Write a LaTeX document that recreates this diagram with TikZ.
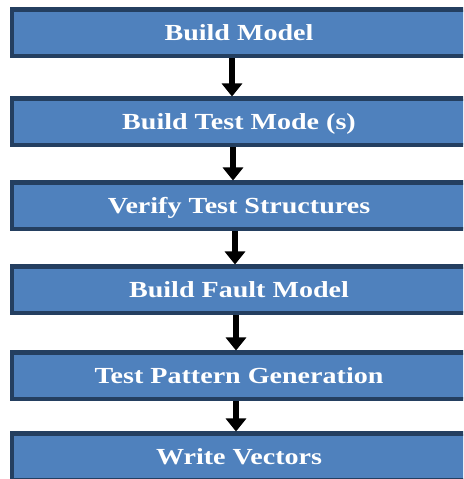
\documentclass[tikz,border=0pt]{standalone}
\usepackage{fontspec}
\setmainfont{Liberation Serif}
\newfontfamily\stagefont[FakeStretch=1.22]{Liberation Serif}
\usetikzlibrary{positioning,arrows.meta}
\definecolor{stageblue}{HTML}{4F81BD}
\definecolor{stageedge}{HTML}{243F60}

\begin{document}
\begin{tikzpicture}[x=1pt,y=1pt,>={Triangle[width=20pt,length=13pt]},
      stage/.style={rectangle,draw=stageedge,fill=stageblue,line width=4.5pt,
        minimum width=454pt,minimum height=46.5pt,inner sep=0pt,
        text=white,text height=20pt,text depth=5pt,
        font=\stagefont\bfseries\fontsize{23}{26}\selectfont}]
      \path[use as bounding box,clip] (0,0) rectangle (463,479);
      \node[stage] (model) at (239,446) {Build Model};
      \node[stage] (testmode) [below=38pt of model] {Build Test Mode (s)};
      \node[stage] (verify) [below=33pt of testmode] {Verify Test Structures};
      \node[stage] (fault) [below=33pt of verify] {Build Fault Model};
      \node[stage] (pattern) [below=35pt of fault] {Test Pattern Generation};
      \node[stage] (vectors) [below=30pt of pattern] {Write Vectors};

      \path[->,line width=6pt]
        ([xshift=-7pt]model.south) edge ([xshift=-7pt]testmode.north)
        ([xshift=-6pt]testmode.south) edge ([xshift=-6pt]verify.north)
        ([xshift=-4pt]verify.south) edge ([xshift=-4pt]fault.north)
        ([xshift=-3pt]fault.south) edge ([xshift=-3pt]pattern.north)
        ([xshift=-3pt]pattern.south) edge ([xshift=-3pt]vectors.north);
\end{tikzpicture}
\end{document}
